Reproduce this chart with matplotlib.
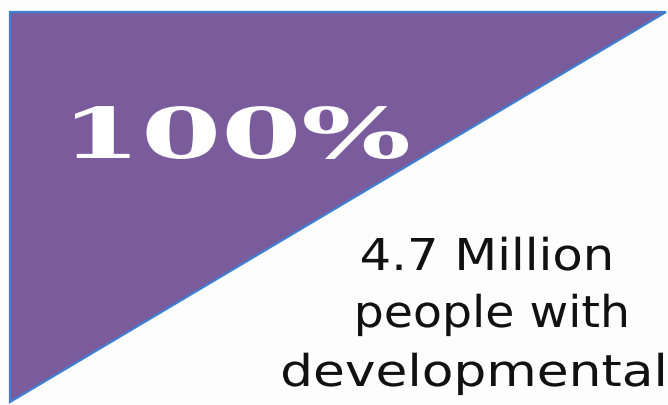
import matplotlib
matplotlib.use('Agg')
import matplotlib.pyplot as plt
from matplotlib.patches import Polygon
from matplotlib.textpath import TextPath
from matplotlib.font_manager import FontProperties
from matplotlib.transforms import Affine2D
from matplotlib import patheffects

# values shown on the graphic
share_value = 100
count_label = '4.7 Million'
desc_lines = ['people with', 'developmental']

W, H, DPI = 668, 405, 100
PURPLE = '#7a5c9c'
EDGE = '#3f7fd0'


class Stretch(patheffects.AbstractPathEffect):
    # widen glyphs horizontally around the text origin
    def __init__(self, sx):
        super().__init__()
        self.sx = sx

    def draw_path(self, renderer, gc, tpath, affine, rgbFace=None):
        renderer.draw_path(gc, tpath, Affine2D().scale(self.sx, 1) + affine, rgbFace)


def fit_text(ax, s, x0, x1, baseline, cap_h, fp, color):
    # pick a size from the cap height, then stretch to the wanted ink width
    ref = TextPath((0, 0), 'H', size=1, prop=fp).get_extents()
    size_px = cap_h / ref.height
    ext = TextPath((0, 0), s, size=size_px, prop=fp).get_extents()
    sx = (x1 - x0) / ext.width
    x = x0 - ext.x0 * sx
    t = ax.text(x, baseline, s, fontproperties=fp, fontsize=size_px * 72 / DPI,
                color=color, ha='left', va='baseline')
    t.set_path_effects([Stretch(sx)])
    return t


fig = plt.figure(figsize=(W / DPI, H / DPI), dpi=DPI)
fig.patch.set_facecolor('#fdfdfd')
ax = fig.add_axes([0, 0, 1, 1])
ax.set_xlim(0, W)
ax.set_ylim(H, 0)
ax.axis('off')

tri = Polygon([[10, 12], [666, 12], [10, 402]], closed=True,
              facecolor=PURPLE, edgecolor=EDGE, linewidth=1.6)
ax.add_patch(tri)

serif = FontProperties(family='DejaVu Serif', weight='bold')
sans = FontProperties(family='DejaVu Sans')

fit_text(ax, f'{share_value}%', 75, 408, 158, 51, serif, 'white')
fit_text(ax, count_label, 362, 610, 270, 32, sans, '#111111')
fit_text(ax, desc_lines[0], 358, 626, 327, 32, sans, '#111111')
fit_text(ax, desc_lines[1], 283, 663, 386, 32, sans, '#111111')

plt.savefig('out.png', dpi=DPI, facecolor=fig.get_facecolor())
